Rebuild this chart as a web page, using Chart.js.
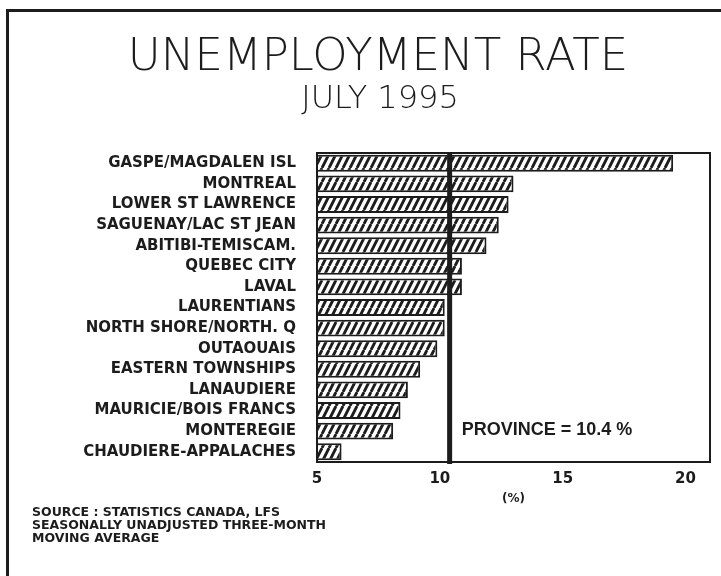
<!DOCTYPE html>
<html>
<head>
<meta charset="utf-8">
<script src="https://cdn.jsdelivr.net/npm/chart.js@4/dist/chart.umd.min.js"></script>
<style>
  html, body { margin: 0; padding: 0; background: #ffffff; }
  #wrap { width: 721px; height: 576px; position: relative; }
</style>
</head>
<body>
<div id="wrap"><canvas id="rateChart"></canvas></div>
<script>
// regions, top to bottom as printed
const regions = [
  'GASPE/MAGDALEN ISL',
  'MONTREAL',
  'LOWER ST LAWRENCE',
  'SAGUENAY/LAC ST JEAN',
  'ABITIBI-TEMISCAM.',
  'QUEBEC CITY',
  'LAVAL',
  'LAURENTIANS',
  'NORTH SHORE/NORTH. Q',
  'OUTAOUAIS',
  'EASTERN TOWNSHIPS',
  'LANAUDIERE',
  'MAURICIE/BOIS FRANCS',
  'MONTEREGIE',
  'CHAUDIERE-APPALACHES'
];
const rates = [19.5, 13.0, 12.8, 12.4, 11.9, 10.9, 10.9, 10.2, 10.2, 9.9, 9.2, 8.7, 8.4, 8.1, 6.0];
const xTicks = [5, 10, 15, 20];
const provinceRate = 10.4;
const titleText = 'UNEMPLOYMENT RATE';
const subtitleText = 'JULY 1995';
const sourceLines = [
  'SOURCE : STATISTICS CANADA, LFS',
  'SEASONALLY UNADJUSTED THREE-MONTH',
  'MOVING AVERAGE'
];

const ink = '#1c1c1c';

// steep hatch fill for the bars
function makeHatch() {
  const w = 7, h = 14;
  const c = document.createElement('canvas');
  c.width = w; c.height = h;
  const g = c.getContext('2d');
  g.fillStyle = '#ffffff';
  g.fillRect(0, 0, w, h);
  g.strokeStyle = ink;
  g.lineWidth = 2.8;
  g.beginPath();
  for (let k = -1; k <= 1; k++) {
    g.moveTo(k * w, h);
    g.lineTo(k * w + w, 0);
  }
  g.stroke();
  return g.createPattern(c, 'repeat');
}

const overlay = {
  id: 'overlay',
  beforeDraw(chart) {
    const ctx = chart.ctx;
    ctx.save();
    ctx.fillStyle = ink;
    // page frame (left and top edges)
    ctx.fillRect(6, 9, 3, chart.height - 9);
    ctx.fillRect(6, 9, chart.width - 6, 3);

    ctx.textAlign = 'center';
    ctx.textBaseline = 'alphabetic';
    ctx.font = '200 45px "DejaVu Sans", sans-serif';
    ctx.fillText(titleText, 378, 70);
    ctx.font = '200 32px "DejaVu Sans", sans-serif';
    ctx.fillText(subtitleText, 380, 108);
    ctx.restore();
  },
  afterDatasetsDraw(chart) {
    const { ctx, chartArea: a, scales: { x, y } } = chart;
    ctx.save();
    ctx.strokeStyle = ink;
    ctx.lineWidth = 2;
    ctx.strokeRect(a.left, a.top, a.right - a.left, a.bottom - a.top);

    const px = x.getPixelForValue(provinceRate);
    ctx.lineWidth = 5;
    ctx.beginPath();
    ctx.moveTo(px, a.top);
    ctx.lineTo(px, a.bottom + 2);
    ctx.stroke();

    ctx.fillStyle = ink;
    ctx.font = 'bold 18px "Liberation Sans", sans-serif';
    ctx.textAlign = 'left';
    ctx.textBaseline = 'middle';
    ctx.fillText('PROVINCE = ' + provinceRate + ' %', px + 12, y.getPixelForValue(13) - 1);

    ctx.font = 'bold 12.5px "DejaVu Sans", sans-serif';
    sourceLines.forEach((t, i) => ctx.fillText(t, 32, 513 + i * 13));
    ctx.restore();
  }
};

new Chart(document.getElementById('rateChart'), {
  type: 'bar',
  data: {
    labels: regions,
    datasets: [{
      data: rates,
      backgroundColor: makeHatch(),
      borderColor: ink,
      borderWidth: 2,
      borderSkipped: false,
      categoryPercentage: 1,
      barPercentage: 0.82
    }]
  },
  options: {
    indexAxis: 'y',
    responsive: true,
    maintainAspectRatio: false,
    animation: false,
    layout: { padding: { left: 0, right: 11, top: 153, bottom: 70 } },
    plugins: {
      legend: { display: false },
      tooltip: { enabled: false }
    },
    scales: {
      x: {
        min: 5,
        max: 21,
        afterBuildTicks: (scale) => { scale.ticks = xTicks.map(v => ({ value: v })); },
        afterFit: (scale) => { scale.height = 44; },
        grid: { display: false, drawTicks: false },
        border: { display: false },
        ticks: {
          color: ink,
          padding: 8,
          font: { family: '"DejaVu Sans", sans-serif', size: 15, weight: 'bold' }
        },
        title: {
          display: true,
          text: '(%)',
          color: ink,
          padding: 0,
          font: { family: '"DejaVu Sans", sans-serif', size: 12, weight: 'bold' }
        }
      },
      y: {
        afterFit: (scale) => { scale.width = 317; },
        grid: { display: false, drawTicks: false },
        border: { display: false },
        ticks: {
          color: ink,
          padding: 21,
          autoSkip: false,
          font: { family: '"DejaVu Sans", sans-serif', size: 15, weight: 'bold' }
        }
      }
    }
  },
  plugins: [overlay]
});
</script>
</body>
</html>
